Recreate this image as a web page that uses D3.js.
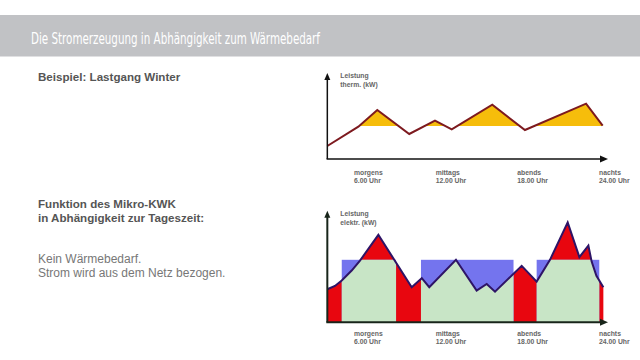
<!DOCTYPE html>
<html>
<head>
<meta charset="utf-8">
<script src="https://cdn.jsdelivr.net/npm/d3@7"></script>
<style>
  body { margin: 0; background: #fff; }
  svg { display: block; }
</style>
</head>
<body>
<div id="chart"></div>
<script>
// time of day (h) and thermal demand (kW, relative)
const thermHours = [4.04, 6.32, 7.71, 10.06, 11.95, 13.18, 16.16, 18.56, 23.05, 24.27];
const thermValues = [1.51, 3.76, 5.70, 2.91, 4.45, 3.45, 6.31, 3.37, 6.43, 3.87];
const thermBase = 3.84;

// electric demand
const elecHours = [4.04, 4.60, 5.10, 5.83, 6.44, 7.79, 10.24, 10.98, 11.53, 13.49, 15.01, 15.75, 16.36, 18.32, 19.42, 20.40, 21.70, 22.56, 23.22, 23.46, 23.81, 24.32];
const elecValues = [2.96, 3.26, 3.74, 4.64, 5.53, 7.84, 3.14, 3.95, 3.14, 5.60, 2.84, 3.44, 2.75, 5.06, 3.65, 5.60, 8.95, 5.84, 6.88, 5.44, 4.16, 3.14];

// periods in which the Mikro-KWK runs (start, end, output)
const runStart = [5.10, 10.92, 19.42];
const runEnd = [9.09, 17.72, 24.02];
const runLevel = 5.6;

const tickHours = [6, 12, 18, 24];
const tickNames = ['morgens', 'mittags', 'abends', 'nachts'];
const tickTimes = ['6.00 Uhr', '12.00 Uhr', '18.00 Uhr', '24.00 Uhr'];

const axisFrom = 4.04, axisTo = 24.66;

const W = 640, H = 360;
const svg = d3.select('#chart').append('svg').attr('width', W).attr('height', H);

// header
svg.append('rect').attr('x', 0).attr('y', 15).attr('width', W).attr('height', 41.5).attr('fill', '#c1c2c5');
svg.append('text').attr('x', 31).attr('y', 44)
  .text('Die Stromerzeugung in Abhängigkeit zum Wärmebedarf')
  .style('font-family', "'Liberation Sans Narrow', 'DejaVu Sans Condensed', sans-serif")
  .style('font-size', '16.5px').attr('fill', '#fff')
  .attr('textLength', 289).attr('lengthAdjust', 'spacingAndGlyphs')

// left texts
const sans = "'Liberation Sans', Arial, sans-serif";
function leftText(txt, y, bold, col) {
  svg.append('text').attr('x', 38).attr('y', y).text(txt)
    .style('font-family', sans).style('font-size', bold ? '11.6px' : '12px')
    .style('font-weight', bold ? 'bold' : 'normal').attr('fill', col)
}
leftText('Beispiel: Lastgang Winter', 81, true, '#555')
leftText('Funktion des Mikro-KWK', 207.5, true, '#555')
leftText('in Abhängigkeit zur Tageszeit:', 221.5, true, '#555')
leftText('Kein Wärmebedarf.', 262.5, false, '#777')
leftText('Strom wird aus dem Netz bezogen.', 276.5, false, '#777')

const x = d3.scaleLinear().domain([6, 24]).range([354, 599]);
const yTop = d3.scaleLinear().domain([0, 10]).range([159, 73]);
const yBot = d3.scaleLinear().domain([0, 10]).range([322.3, 210.7]);

function axes(y, col, w, label2, lab) {
  const x0 = x(axisFrom), x1 = x(axisTo), y0 = y(0), yt = y(10);
  svg.append('line').attr('x1', x0).attr('y1', y0).attr('x2', x0).attr('y2', yt + 4)
    .attr('stroke', col).attr('stroke-width', w)
  svg.append('line').attr('x1', x0 - w / 2).attr('y1', y0).attr('x2', x1 - 5).attr('y2', y0)
    .attr('stroke', col).attr('stroke-width', w)
  svg.append('path').attr('d', `M${x0 - 3},${yt + 7}L${x0},${yt}L${x0 + 3},${yt + 7}Z`).attr('fill', col)
  svg.append('path').attr('d', `M${x1 - 8},${y0 - 3.5}L${x1},${y0}L${x1 - 8},${y0 + 3.5}Z`).attr('fill', col)

  const f = t => t.style('font-family', sans).style('font-size', '6.8px').style('font-weight', 'bold').attr('fill', '#666')
  f(svg.append('text').attr('x', x0 + 13).attr('y', yt + lab[0]).text('Leistung'))
  f(svg.append('text').attr('x', x0 + 13).attr('y', yt + lab[1]).text(label2))
  tickHours.forEach((h, i) => {
    f(svg.append('text').attr('x', x(h)).attr('y', y0 + lab[2]).text(tickNames[i]))
    f(svg.append('text').attr('x', x(h)).attr('y', y0 + lab[3]).text(tickTimes[i]))
  })
}

// ---- top chart: thermal
const thermPts = thermHours.map((h, i) => [h, thermValues[i]]);
svg.append('clipPath').attr('id', 'aboveBase').append('rect')
  .attr('x', 0).attr('y', 0).attr('width', W).attr('height', yTop(thermBase))
svg.append('path').datum(thermPts)
  .attr('d', d3.area().x(d => x(d[0])).y0(yTop(thermBase)).y1(d => yTop(d[1])))
  .attr('fill', '#f6bd0b').attr('clip-path', 'url(#aboveBase)')
svg.append('path').datum(thermPts)
  .attr('d', d3.line().x(d => x(d[0])).y(d => yTop(d[1])))
  .attr('fill', 'none').attr('stroke', '#7d1a1f').attr('stroke-width', 2).attr('stroke-linejoin', 'miter')
axes(yTop, '#111', 1.5, 'therm. (kW)', [5, 13.5, 16, 23.5])

// ---- bottom chart: electric
const elecPts = elecHours.map((h, i) => [h, elecValues[i]]);
const elecArea = d3.area().x(d => x(d[0])).y0(yBot(0)).y1(d => yBot(d[1]));
svg.append('path').datum(elecPts).attr('d', elecArea).attr('fill', '#e8060f')

const defs = svg.append('defs');
const clip = defs.append('clipPath').attr('id', 'runClip');
runStart.forEach((s, i) => {
  svg.append('rect').attr('x', x(s)).attr('y', yBot(runLevel))
    .attr('width', x(runEnd[i]) - x(s)).attr('height', yBot(0) - yBot(runLevel))
    .attr('fill', '#7474ee')
  clip.append('rect').attr('x', x(s)).attr('y', yBot(runLevel))
    .attr('width', x(runEnd[i]) - x(s)).attr('height', yBot(0) - yBot(runLevel))
})
svg.append('path').datum(elecPts).attr('d', elecArea).attr('fill', '#c8e5c6').attr('clip-path', 'url(#runClip)')
svg.append('path').datum(elecPts)
  .attr('d', d3.line().x(d => x(d[0])).y(d => yBot(d[1])))
  .attr('fill', 'none').attr('stroke', '#2e1466').attr('stroke-width', 2)
axes(yBot, '#18251a', 2, 'elektr. (kW)', [5.5, 14, 13.5, 21.5])
</script>
</body>
</html>
